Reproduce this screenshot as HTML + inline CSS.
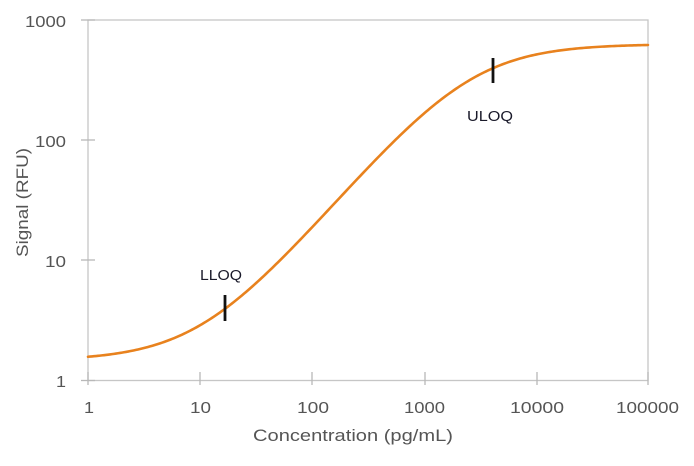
<!DOCTYPE html>
<html><head><meta charset="utf-8"><style>
html,body{margin:0;padding:0;background:#fff;}
svg{display:block;}
text{font-family:"Liberation Sans",Arial,sans-serif;}
</style></head><body>
<svg width="694" height="466" viewBox="0 0 694 466" xmlns="http://www.w3.org/2000/svg">
<rect x="0" y="0" width="694" height="466" fill="#fff"/>
<rect x="88" y="20" width="560" height="360.5" fill="none" stroke="#c6c6c6" stroke-width="1.3"/>
<g stroke="#b8b8b8" stroke-width="1.3">
<line x1="81" y1="20" x2="95" y2="20"/>
<line x1="81" y1="140" x2="95" y2="140"/>
<line x1="81" y1="260" x2="95" y2="260"/>
<line x1="81" y1="380.5" x2="95" y2="380.5"/>
<line x1="88" y1="372" x2="88" y2="385"/>
<line x1="200" y1="372" x2="200" y2="385"/>
<line x1="312" y1="372" x2="312" y2="385"/>
<line x1="425" y1="372" x2="425" y2="385"/>
<line x1="537" y1="372" x2="537" y2="385"/>
<line x1="648" y1="372" x2="648" y2="385"/>
</g>
<g fill="#555" font-size="15.5" text-anchor="end">
<text x="66" y="27" textLength="41" lengthAdjust="spacingAndGlyphs">1000</text>
<text x="66" y="147" textLength="31" lengthAdjust="spacingAndGlyphs">100</text>
<text x="66" y="267" textLength="21" lengthAdjust="spacingAndGlyphs">10</text>
<text x="66" y="387" textLength="10" lengthAdjust="spacingAndGlyphs">1</text>
</g>
<g fill="#555" font-size="15.5">
<text x="84" y="413" textLength="10" lengthAdjust="spacingAndGlyphs">1</text>
<text x="190" y="413" textLength="21" lengthAdjust="spacingAndGlyphs">10</text>
<text x="297" y="413" textLength="32" lengthAdjust="spacingAndGlyphs">100</text>
<text x="404" y="413" textLength="41" lengthAdjust="spacingAndGlyphs">1000</text>
<text x="510" y="413" textLength="54" lengthAdjust="spacingAndGlyphs">10000</text>
<text x="616" y="413" textLength="63" lengthAdjust="spacingAndGlyphs">100000</text>
</g>
<text x="253" y="441" fill="#555" font-size="16.5" textLength="200" lengthAdjust="spacingAndGlyphs">Concentration (pg/mL)</text>
<text transform="translate(28,257) rotate(-90)" fill="#555" font-size="16.5" textLength="109" lengthAdjust="spacingAndGlyphs">Signal (RFU)</text>
<polyline id="fb" fill="none" stroke="#E8821E" stroke-width="2.6" stroke-linejoin="round" stroke-linecap="round" points="88,357 110,354 133,350 150,345 167,339 185,331 200,323 212,316 225,308 240,295 257,280 273,264 290,247 306,230 323,213 340,197 357,180 377,160 397,140 414,124 430,110 447,98 463,87 478,79 492,72 510,63 530,56 550,51 575,48 600,46 625,45 648,44.5"/>
<line x1="225" y1="295" x2="225" y2="321" stroke="#111" stroke-width="2.8"/>
<line x1="493" y1="58" x2="493" y2="83" stroke="#111" stroke-width="2.8"/>
<text x="200" y="280" fill="#1a1a2a" font-size="15" textLength="42" lengthAdjust="spacingAndGlyphs">LLOQ</text>
<text x="467" y="121" fill="#1a1a2a" font-size="15" textLength="46" lengthAdjust="spacingAndGlyphs">ULOQ</text>
</svg>
<script>
(function(){
var a=1.45,d=630,c=2560,b=1.1,pts=[];
for(var px=88;px<=648.001;px+=2){
var lx=(px-88)/112.0;
var x=Math.pow(10,lx);
var y=d+(a-d)/(1+Math.pow(x/c,b));
var py=380-120*Math.log10(y);
pts.push(px.toFixed(1)+','+py.toFixed(2));
}
document.getElementById('fb').setAttribute('points',pts.join(' '));
})();
</script>
</body></html>
